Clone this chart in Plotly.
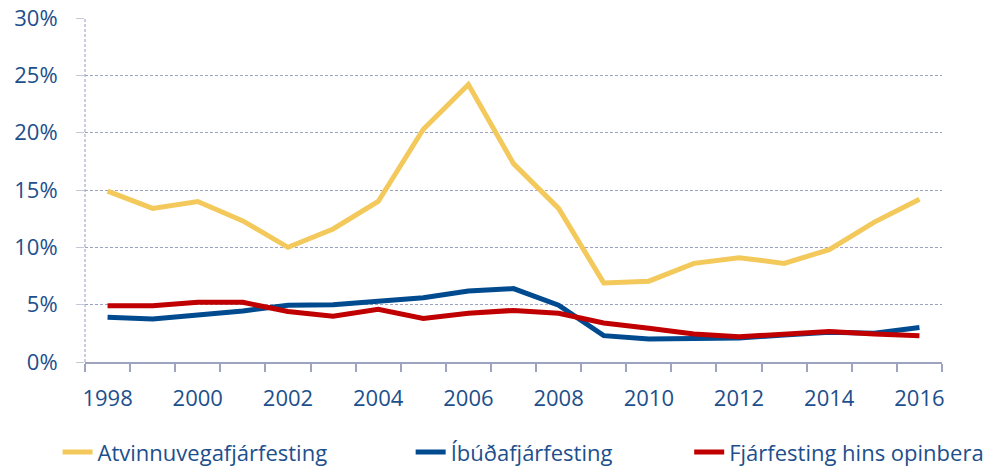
import plotly.graph_objects as go

years = list(range(1998, 2017))
atvinnuvegafjarfesting = [14.9, 13.4, 14.0, 12.3, 10.0, 11.6, 14.0, 20.3, 24.2, 17.3,
                          13.4, 6.9, 7.05, 8.6, 9.1, 8.6, 9.8, 12.2, 14.2]
ibudafjarfesting = [3.9, 3.75, 4.1, 4.45, 4.95, 5.0, 5.3, 5.6, 6.2, 6.4,
                    4.95, 2.3, 2.0, 2.05, 2.1, 2.35, 2.6, 2.5, 3.0]
fjarfesting_opinbera = [4.9, 4.9, 5.2, 5.2, 4.4, 4.0, 4.6, 3.8, 4.25, 4.5,
                        4.25, 3.4, 2.95, 2.45, 2.2, 2.4, 2.65, 2.45, 2.3]
series_names = ["Atvinnuvegafjárfesting", "Íbúðafjárfesting", "Fjárfesting hins opinbera"]
y_ticks = [0, 5, 10, 15, 20, 25, 30]
y_tick_labels = [f"{v}%" for v in y_ticks]
x_tick_years = list(range(1998, 2017, 2))

text_color = "#1d4f8c"
grid_color = "#9ea4bf"
font_family = "Open Sans, Lato, sans-serif"

fig = go.Figure()
colors = ["#F3C95B", "#004A8F", "#C00000"]
legend_ids = ["legend", "legend2", "legend3"]
legend_x = [-0.032, 0.380, 0.705]
for name, vals, col, lid in zip(series_names,
                                [atvinnuvegafjarfesting, ibudafjarfesting, fjarfesting_opinbera],
                                colors, legend_ids):
    fig.add_trace(go.Scatter(x=years, y=vals, mode="lines", name=name,
                             line=dict(color=col, width=5), legend=lid))

legend_common = dict(orientation="h", y=-0.262, yanchor="middle", xanchor="left",
                     font=dict(size=22, color=text_color, family=font_family),
                     bgcolor="rgba(0,0,0,0)")
layout_legends = {lid: dict(x=lx, **legend_common) for lid, lx in zip(legend_ids, legend_x)}

fig.update_layout(
    width=1005, height=471,
    margin=dict(l=85, r=63, t=18, b=109, autoexpand=False),
    plot_bgcolor="white", paper_bgcolor="white",
    font=dict(family=font_family, color=text_color, size=20),
    showlegend=True,
    **layout_legends,
)
fig.update_xaxes(
    range=[1997.5, 2016.5], automargin=False,
    tickmode="array", tickvals=x_tick_years, ticktext=[str(y) for y in x_tick_years],
    ticks="", showgrid=False, zeroline=False,
    showline=True, linecolor=grid_color, linewidth=1.5,
    ticklabelstandoff=16,
    tickfont=dict(size=22, color=text_color),
    minor=dict(tick0=1997.5, dtick=1, ticks="outside", ticklen=8,
               tickcolor=grid_color, tickwidth=1.5, showgrid=False),
)
fig.update_yaxes(
    range=[0, 30], automargin=False, tickmode="array", tickvals=y_ticks,
    ticktext=y_tick_labels, ticklabeloverflow="allow",
    showgrid=True, gridcolor=grid_color, griddash="3px,2px",
    gridwidth=1, zeroline=False, showline=False,
    ticks="outside", ticklen=8, tickcolor="#c4c8d8",
    ticklabelstandoff=14,
    tickfont=dict(size=22, color=text_color),
)
# dashed left axis line
fig.add_shape(type="line", xref="paper", yref="paper", x0=0, x1=0, y0=0, y1=1,
              line=dict(color="#b8bdd2", width=1.5, dash="3px,2px"), layer="below")

fig.write_html("out.html", config={"displayModeBar": False},
               post_script="document.body.style.margin='0';")
